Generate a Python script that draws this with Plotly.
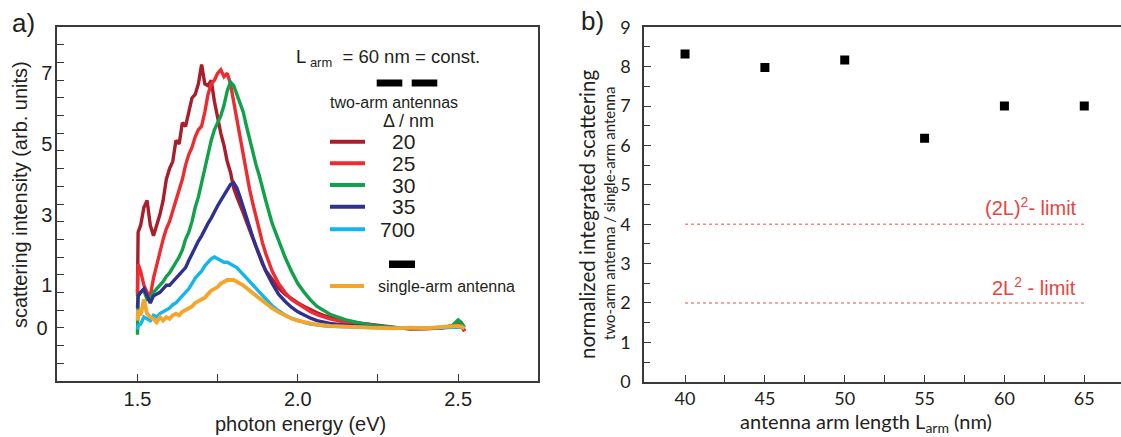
import plotly.graph_objects as go

W, H = 1121, 437

# ---------------- panel a) : scattering spectra ----------------
ENERGY = [1.500, 1.502, 1.51, 1.52, 1.53, 1.54, 1.55, 1.56, 1.57, 1.58,
          1.59, 1.60, 1.61, 1.62, 1.63, 1.64, 1.65, 1.66, 1.67, 1.68,
          1.69, 1.70, 1.71, 1.72, 1.73, 1.74, 1.75, 1.76, 1.77, 1.78,
          1.79, 1.80, 1.81, 1.82, 1.83, 1.84, 1.85, 1.86, 1.87, 1.88,
          1.89, 1.90, 1.92, 1.94, 1.96, 1.98, 2.00, 2.02, 2.04, 2.06,
          2.08, 2.10, 2.15, 2.20, 2.25, 2.30, 2.35, 2.40, 2.45, 2.48,
          2.50, 2.51, 2.52]

GAP_20 = [1.0, 2.7, 2.9, 3.4, 3.6, 2.9, 2.6, 2.9, 3.2, 3.6,
          4.2, 4.5, 4.7, 5.3, 5.2, 5.8, 5.7, 6.1, 6.5, 6.6,
          6.9, 7.45, 6.9, 6.85, 7.0, 6.4, 5.9, 5.5, 5.15, 4.7,
          4.4, 3.95, 3.7, 3.5, 3.25, 3.0, 2.75, 2.5, 2.25, 2.0,
          1.8, 1.62, 1.35, 1.12, 0.95, 0.82, 0.7, 0.6, 0.5, 0.42,
          0.35, 0.29, 0.18, 0.12, 0.06, 0.0, -0.04, -0.03, 0.0, 0.05,
          0.12, 0.05, -0.1]

GAP_25 = [0.9, 1.8, 1.6, 1.2, 1.0, 0.9, 1.4, 1.8, 2.2, 2.5,
          2.8, 3.0, 3.3, 3.6, 3.9, 4.2, 4.6, 4.9, 5.1, 5.4,
          5.6, 5.7, 6.1, 6.6, 6.9, 7.0, 7.2, 7.3, 7.1, 7.2,
          6.9, 6.4, 5.9, 5.3, 4.8, 4.4, 3.9, 3.5, 3.1, 2.7,
          2.4, 2.1, 1.6, 1.25, 1.0, 0.8, 0.68, 0.55, 0.45, 0.37,
          0.3, 0.25, 0.15, 0.08, 0.03, 0.0, -0.02, -0.02, 0.0, 0.05,
          0.15, 0.1, -0.1]

GAP_30 = [-0.2, 0.9, 1.0, 1.05, 0.8, 0.85, 1.0, 1.1, 1.2, 1.3,
          1.45, 1.55, 1.7, 1.85, 2.0, 2.2, 2.5, 2.7, 3.0, 3.4,
          3.7, 4.1, 4.5, 5.0, 5.3, 5.6, 5.8, 6.0, 6.3, 6.7,
          6.95, 6.85, 6.6, 6.35, 6.1, 5.7, 5.3, 5.0, 4.6, 4.3,
          3.9, 3.6, 2.95, 2.45, 2.0, 1.6, 1.25, 1.0, 0.78, 0.6,
          0.48, 0.38, 0.22, 0.12, 0.05, 0.0, -0.02, -0.02, 0.0, 0.05,
          0.22, 0.15, 0.0]

GAP_35 = [0.55, 0.9, 1.0, 1.1, 0.9, 0.7, 0.9, 0.95, 1.0, 1.1,
          1.2, 1.2, 1.3, 1.4, 1.5, 1.6, 1.7, 1.9, 2.1, 2.3,
          2.45, 2.6, 2.8, 2.95, 3.1, 3.3, 3.45, 3.6, 3.75, 3.9,
          4.05, 4.1, 3.95, 3.7, 3.4, 3.1, 2.8, 2.55, 2.3, 2.05,
          1.8, 1.6, 1.25, 0.95, 0.75, 0.58, 0.45, 0.35, 0.27, 0.2,
          0.15, 0.12, 0.07, 0.03, 0.01, 0.0, -0.01, -0.01, 0.0, 0.02,
          0.05, 0.03, 0.0]

GAP_700 = [-0.05, 0.05, 0.1, 0.3, 0.25, 0.2, 0.35, 0.3, 0.4, 0.45,
           0.5, 0.55, 0.65, 0.7, 0.8, 0.9, 1.0, 1.1, 1.25, 1.4,
           1.5, 1.6, 1.75, 1.85, 1.95, 2.0, 1.95, 1.9, 1.85, 1.85,
           1.8, 1.75, 1.7, 1.6, 1.5, 1.4, 1.3, 1.2, 1.1, 1.0,
           0.9, 0.8, 0.62, 0.48, 0.36, 0.27, 0.2, 0.15, 0.1, 0.07,
           0.05, 0.04, 0.02, 0.01, 0.0, 0.0, -0.01, 0.0, 0.0, 0.02,
           0.03, 0.02, 0.0]

SINGLE_ARM = [0.2, 0.5, 0.35, 0.8, 0.4, 0.3, 0.25, 0.15, 0.3, 0.2,
              0.3, 0.25, 0.35, 0.4, 0.35, 0.45, 0.5, 0.55, 0.6, 0.7,
              0.75, 0.8, 0.85, 0.95, 1.05, 1.1, 1.15, 1.25, 1.3, 1.35,
              1.35, 1.35, 1.3, 1.25, 1.2, 1.12, 1.05, 0.98, 0.9, 0.82,
              0.75, 0.68, 0.55, 0.44, 0.34, 0.26, 0.2, 0.15, 0.12, 0.09,
              0.07, 0.05, 0.03, 0.02, 0.0, -0.02, 0.0, -0.01, 0.02, 0.05,
              0.05, 0.03, -0.02]

DELTA_LABELS = ["20", "25", "30", "35", "700"]
SPECTRA = [GAP_20, GAP_25, GAP_30, GAP_35, GAP_700]
COLORS = ["#a81e2b", "#ee2b30", "#10a24a", "#2e3192", "#12b5ee"]
SINGLE_COLOR = "#f4a52a"

X_TICKS_A = [1.5, 2.0, 2.5]
X_TICKTEXT_A = ["1.5", "2.0", "2.5"]
X_MINOR_A = [1.75, 2.25]
Y_ZERO_A = [0]
Y_LABELED_A = [1, 3, 5, 7]
Y_MINOR_A = [-1, -0.5, 0.5, 1, 1.5, 2, 2.5, 3, 3.5, 4, 4.5, 5, 5.5, 6,
             6.5, 7, 7.5, 8]

# ---------------- panel b) : integrated scattering ratio ----------------
ARM_LENGTH = [40, 45, 50, 55, 60, 65]
RATIO = [8.32, 7.98, 8.17, 6.18, 7.0, 7.0]
LIMIT_X = [40, 65]
LIMIT_2L_SQ = [4, 4]     # (2L)^2 limit
LIMIT_2_LSQ = [2, 2]     # 2L^2 limit
X_MINOR_B = [42.5, 47.5, 52.5, 57.5, 62.5]
Y_TICKS_B = [0, 1, 2, 3, 4, 5, 6, 7, 8, 9]
Y_MINOR_B = [0.5, 1.5, 2.5, 3.5, 4.5, 5.5, 6.5, 7.5, 8.5]

FONT_A = "Liberation Sans, Arial, sans-serif"
FONT_B = "Lato, Open Sans, sans-serif"
INK = "#231f20"
AXIS = "#3a3a3a"
LIMIT_RED = "#e8453c"


def px(x):
    return x / W


def py(y):
    return 1 - y / H


fig = go.Figure()

for vals, col in zip(SPECTRA, COLORS):
    fig.add_trace(go.Scatter(x=ENERGY, y=vals, mode="lines",
                             line=dict(color=col, width=3.4),
                             xaxis="x", yaxis="y", showlegend=False))
fig.add_trace(go.Scatter(x=ENERGY, y=SINGLE_ARM, mode="lines",
                         line=dict(color=SINGLE_COLOR, width=3.8),
                         xaxis="x", yaxis="y", showlegend=False))
# carrier for the raised odd-number labels
fig.add_trace(go.Scatter(x=[None], y=[None], xaxis="x", yaxis="y3",
                         showlegend=False, hoverinfo="skip"))

for yv in (LIMIT_2L_SQ, LIMIT_2_LSQ):
    fig.add_trace(go.Scatter(x=LIMIT_X, y=yv, mode="lines",
                             line=dict(color="#f08a80", width=1.6, dash="dot"),
                             xaxis="x2", yaxis="y2", showlegend=False))
fig.add_trace(go.Scatter(x=ARM_LENGTH, y=RATIO, mode="markers",
                         marker=dict(symbol="square", size=9, color="black"),
                         xaxis="x2", yaxis="y2", showlegend=False))

axis_common = dict(showline=True, linecolor=AXIS, linewidth=1.5,
                   ticks="inside", tickcolor=AXIS, tickwidth=1.3, ticklen=7,
                   showgrid=False, zeroline=False, automargin=False)


def minor(vals, length=7):
    return dict(tickmode="array", tickvals=vals, ticks="inside",
                ticklen=length, tickcolor=AXIS, tickwidth=1.3, showgrid=False)


fig.update_layout(
    template="none",
    width=W, height=H,
    margin=dict(l=0, r=0, t=0, b=0, autoexpand=False),
    paper_bgcolor="white", plot_bgcolor="white",
    xaxis=dict(domain=[px(57.3), px(538.3)], range=[1.25, 2.75], anchor="y",
               mirror=True, tickvals=X_TICKS_A, ticktext=X_TICKTEXT_A,
               minor=minor(X_MINOR_A),
               tickfont=dict(family=FONT_A, size=20, color=INK),
               ticklabelstandoff=0, **axis_common),
    yaxis=dict(domain=[py(380.7), py(27.3)], range=[-1.5, 8.5], anchor="x",
               mirror=True, tickvals=Y_ZERO_A,
               ticktext=[str(v) for v in Y_ZERO_A],
               minor=minor(Y_MINOR_A),
               tickfont=dict(family=FONT_A, size=20, color=INK),
               ticklabelstandoff=4, **axis_common),
    yaxis3=dict(overlaying="y", anchor="x", range=[-1.5, 8.5], side="left",
                showline=False, showgrid=False, zeroline=False, ticks="",
                automargin=False,
                tickvals=Y_LABELED_A, ticktext=[str(v) for v in Y_LABELED_A],
                ticklabelshift=-7, ticklabelstandoff=4,
                tickfont=dict(family=FONT_A, size=20, color=INK)),
    xaxis2=dict(domain=[px(644), 1.0], range=[37.43, 67.3], anchor="y2",
                mirror=True, tickvals=ARM_LENGTH,
                minor=minor(X_MINOR_B),
                tickfont=dict(family=FONT_B, size=18, color=INK),
                ticklabelstandoff=0, **axis_common),
    yaxis2=dict(domain=[py(381.7), py(27.3)], range=[0, 9], anchor="x2",
                mirror=False, tickvals=Y_TICKS_B,
                minor=minor(Y_MINOR_B, 6),
                tickfont=dict(family=FONT_B, size=18, color=INK),
                ticklabelstandoff=8, **axis_common),
)

annotations = []


def text(t, x, y, size, family, color=INK, xanchor="center", angle=0):
    annotations.append(dict(text=t, x=px(x), y=py(y), xref="paper", yref="paper",
                            showarrow=False, xanchor=xanchor, yanchor="middle",
                            textangle=angle,
                            font=dict(size=size, family=family, color=color)))


# panel letters and axis titles
text("a)", 23, 23, 26, FONT_A)
text("b)", 592, 21, 26, FONT_A)
text("scattering intensity (arb. units)", 20, 195, 20, FONT_A, angle=-90)
text("photon energy (eV)", 300, 424, 20, FONT_A)
text("normalized integrated scattering", 587, 215, 20.5, FONT_B, angle=-90)
text("two-arm antenna / single-arm antenna", 609, 214, 15, FONT_B, angle=-90)
text("antenna arm length L<sub>arm</sub> (nm)", 866, 422, 20, FONT_B)

# limit labels
text("(2L)<sup>2</sup>- limit", 1079, 207, 20, FONT_A, color=LIMIT_RED, xanchor="right")
text("2L<sup>2</sup> - limit", 1078, 286, 20, FONT_A, color=LIMIT_RED, xanchor="right")

# in-plot key for panel a)
text("L<sub>&nbsp;arm</sub>&nbsp;&nbsp;= 60 nm = const.", 294, 58, 18.5, FONT_A, xanchor="left")
text("two-arm antennas", 393.5, 102, 16, FONT_A)
text("\u0394 / nm", 408, 121, 18, FONT_A)

shapes = []
key_rows = [141.7, 163.3, 185.0, 206.7, 229.3]
for lab, col, yy in zip(DELTA_LABELS, COLORS, key_rows):
    shapes.append(dict(type="line", xref="paper", yref="paper",
                       x0=px(330), x1=px(365), y0=py(yy), y1=py(yy),
                       line=dict(color=col, width=4)))
    text(lab, 417, yy, 21, FONT_A, xanchor="right")

shapes.append(dict(type="line", xref="paper", yref="paper",
                   x0=px(330), x1=px(364), y0=py(286), y1=py(286),
                   line=dict(color=SINGLE_COLOR, width=4)))
text("single-arm antenna", 376, 286, 16, FONT_A, xanchor="left")

# antenna sketches (two arms, one arm)
for x0, x1, y0, y1 in [(376.7, 402.3, 79.5, 86.5), (411.7, 437.3, 79.5, 86.5),
                       (389.0, 415.0, 260.5, 268.0)]:
    shapes.append(dict(type="rect", xref="paper", yref="paper",
                       x0=px(x0), x1=px(x1), y0=py(y1), y1=py(y0),
                       fillcolor="black", line=dict(width=0)))

fig.update_layout(annotations=annotations, shapes=shapes)

fig.write_html("out.html")
